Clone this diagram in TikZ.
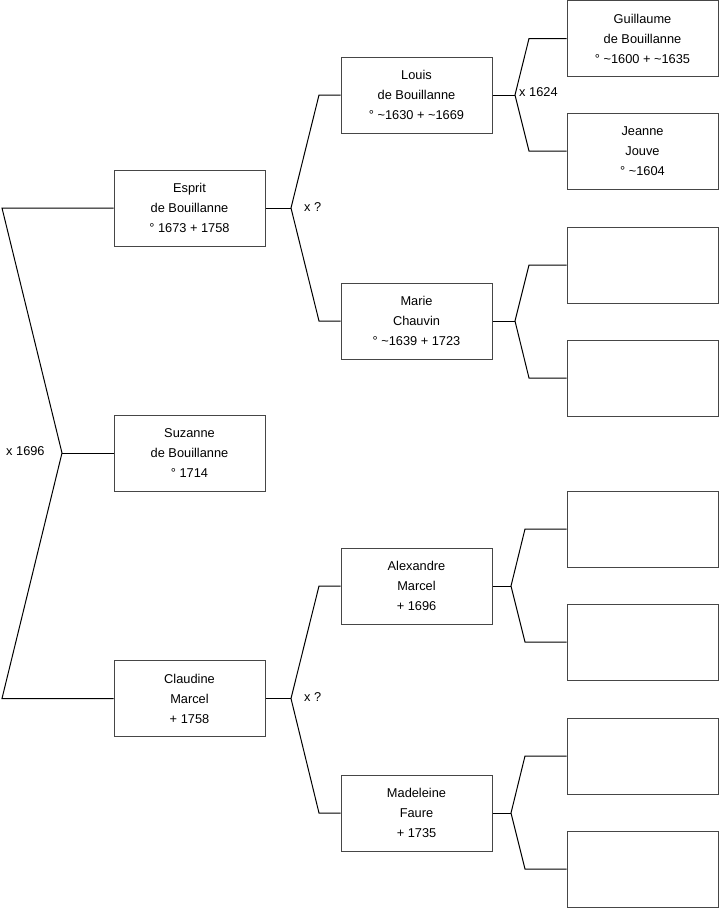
\documentclass[tikz,border=0pt]{standalone}
\usepackage{fontspec}
\setmainfont{Liberation Sans}
\usetikzlibrary{positioning, calc}
\definecolor{garisbox}{RGB}{70,70,70}

\begin{document}
\begin{tikzpicture}[x=1pt, y=-1pt,
        every node/.style={font=\fontsize{12.8}{20}\selectfont},
        box/.style={rectangle, draw=garisbox, line width=1pt, minimum width=151pt,
                    minimum height=76pt, align=center, inner sep=0pt},
        lin/.style={line width=1pt, black},
        nikah/.style={anchor=west, inner sep=0pt}
    ]
        \useasboundingbox (0,0) rectangle (719,908);
        % generasi 1
        \node[box] (esprit)   at (189.5,208)   {Esprit\\de Bouillanne\\° 1673 + 1758};
        \node[box] (suzanne)  at (189.5,453)   {Suzanne\\de Bouillanne\\° 1714};
        \node[box] (claudine) at (189.5,698.5) {Claudine\\Marcel\\+ 1758};
        % generasi 2
        \node[box] (louis)  at (416.5,95)  {Louis\\de Bouillanne\\° \textasciitilde1630 + \textasciitilde1669};
        \node[box] (marie)  at (416.5,321) {Marie\\Chauvin\\° \textasciitilde1639 + 1723};
        \node[box] (alex)   at (416.5,586) {Alexandre\\Marcel\\+ 1696};
        \node[box] (madel)  at (416.5,813) {Madeleine\\Faure\\+ 1735};
        % generasi 3
        \node[box] (guil)   at (642.5,38.5) {Guillaume\\de Bouillanne\\° \textasciitilde1600 + \textasciitilde1635};
        \node[box] (jeanne) at (642.5,151)  {Jeanne\\Jouve\\° \textasciitilde1604};
        \node[box] (m1)     at (642.5,265)  {};
        \node[box] (m2)     at (642.5,378)  {};
        \node[box] (a1)     at (642.5,529)  {};
        \node[box] (a2)     at (642.5,642)  {};
        \node[box] (f1)     at (642.5,756)  {};
        \node[box] (f2)     at (642.5,869)  {};

        % titik cabang
        \coordinate (jsuz) at (62,453);
        \coordinate (ksuz) at (2,0);
        \coordinate (jesp) at (291,208);
        \coordinate (jcla) at (291,698.5);
        \coordinate (k2)   at (319,0);
        \coordinate (jlou) at (515,95);
        \coordinate (jmar) at (515,321);
        \coordinate (jale) at (511,586);
        \coordinate (jmad) at (511,813);
        \coordinate (k3a)  at (529,0);
        \coordinate (k3b)  at (525,0);

        \draw[lin] (suzanne.west) -- (jsuz);
        \draw[lin] (esprit.west) -- (esprit.west -| ksuz) -- (jsuz) -- (claudine.west -| ksuz) -- (claudine.west);
        \draw[lin] (esprit.east) -- (jesp);
        \draw[lin] (louis.west) -- (louis.west -| k2) -- (jesp) -- (marie.west -| k2) -- (marie.west);
        \draw[lin] (claudine.east) -- (jcla);
        \draw[lin] (alex.west) -- (alex.west -| k2) -- (jcla) -- (madel.west -| k2) -- (madel.west);
        \draw[lin] (louis.east) -- (jlou);
        \draw[lin] (guil.west) -- (guil.west -| k3a) -- (jlou) -- (jeanne.west -| k3a) -- (jeanne.west);
        \draw[lin] (marie.east) -- (jmar);
        \draw[lin] (m1.west) -- (m1.west -| k3a) -- (jmar) -- (m2.west -| k3a) -- (m2.west);
        \draw[lin] (alex.east) -- (jale);
        \draw[lin] (a1.west) -- (a1.west -| k3b) -- (jale) -- (a2.west -| k3b) -- (a2.west);
        \draw[lin] (madel.east) -- (jmad);
        \draw[lin] (f1.west) -- (f1.west -| k3b) -- (jmad) -- (f2.west -| k3b) -- (f2.west);

        \node[nikah] (n1) at (6,451)   {x 1696};
        \node[nikah] (n2) at (304,207) {x ?};
        \node[nikah] (n3) at (304,697) {x ?};
        \node[nikah] (n4) at (519,92)  {x 1624};
    \end{tikzpicture}
\end{document}
